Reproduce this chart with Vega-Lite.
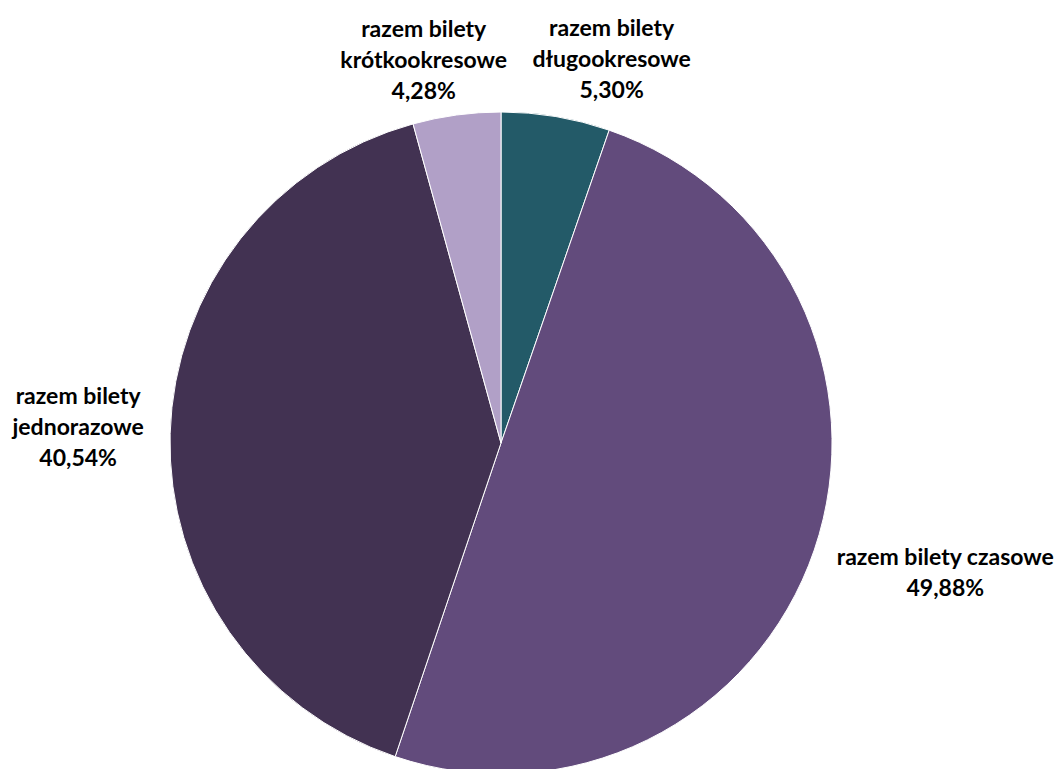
{
  "$schema": "https://vega.github.io/schema/vega-lite/v6.json",
  "autosize": "none",
  "width": 1002,
  "height": 652,
  "padding": {"left": 0, "top": 117, "right": 59, "bottom": 0},
  "background": "white",
  "config": {"view": {"stroke": null}},
  "data": {"values": [
    {"idx": 0, "category": "razem bilety długookresowe", "value": 5.30, "label": "razem bilety\ndługookresowe\n5,30%"},
    {"idx": 1, "category": "razem bilety czasowe", "value": 49.88, "label": "razem bilety czasowe\n49,88%"},
    {"idx": 2, "category": "razem bilety jednorazowe", "value": 40.54, "label": "razem bilety\njednorazowe\n40,54%"},
    {"idx": 3, "category": "razem bilety krótkookresowe", "value": 4.28, "label": "razem bilety\nkrótkookresowe\n4,28%"}
  ]},
  "transform": [
    {"stack": "value", "groupby": [], "sort": [{"field": "idx", "order": "ascending"}], "as": ["v0", "v1"]},
    {"calculate": "(datum.v0 + datum.v1) / 2", "as": "mid"}
  ],
  "layer": [
    {
      "mark": {"type": "arc", "radius": 331, "stroke": "white", "strokeWidth": 1},
      "encoding": {
        "theta": {"field": "v0", "type": "quantitative", "scale": {"domain": [0, 100]}},
        "theta2": {"field": "v1"},
        "color": {
          "field": "category", "type": "nominal", "legend": null,
          "scale": {
            "domain": ["razem bilety długookresowe", "razem bilety czasowe", "razem bilety jednorazowe", "razem bilety krótkookresowe"],
            "range": ["#235a68", "#624b7c", "#423252", "#b1a0c7"]
          }
        }
      }
    },
    {
      "transform": [{"filter": "datum.idx == 0"}],
      "mark": {"type": "text", "radius": 390, "dx": 46, "dy": -29, "font": "Lato", "fontWeight": "bold", "fontSize": 23, "lineHeight": 31, "lineBreak": "\n", "align": "center", "baseline": "middle", "color": "#000000"},
      "encoding": {"theta": {"field": "mid", "type": "quantitative"}, "text": {"field": "label"}}
    },
    {
      "transform": [{"filter": "datum.idx == 1"}],
      "mark": {"type": "text", "radius": 460, "dx": 9, "dy": -34, "font": "Lato", "fontWeight": "bold", "fontSize": 23, "lineHeight": 31, "lineBreak": "\n", "align": "center", "baseline": "middle", "color": "#000000"},
      "encoding": {"theta": {"field": "mid", "type": "quantitative"}, "text": {"field": "label"}}
    },
    {
      "transform": [{"filter": "datum.idx == 2"}],
      "mark": {"type": "text", "radius": 423, "dx": 0, "dy": -34, "font": "Lato", "fontWeight": "bold", "fontSize": 23, "lineHeight": 31, "lineBreak": "\n", "align": "center", "baseline": "middle", "color": "#000000"},
      "encoding": {"theta": {"field": "mid", "type": "quantitative"}, "text": {"field": "label"}}
    },
    {
      "transform": [{"filter": "datum.idx == 3"}],
      "mark": {"type": "text", "radius": 390, "dx": -25, "dy": -27, "font": "Lato", "fontWeight": "bold", "fontSize": 23, "lineHeight": 31, "lineBreak": "\n", "align": "center", "baseline": "middle", "color": "#000000"},
      "encoding": {"theta": {"field": "mid", "type": "quantitative"}, "text": {"field": "label"}}
    }
  ]
}
